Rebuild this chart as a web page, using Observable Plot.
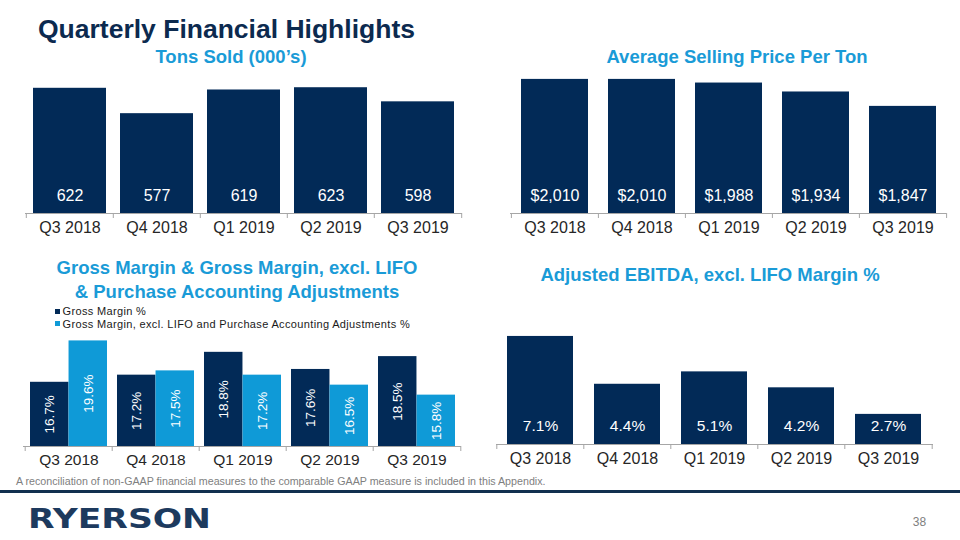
<!DOCTYPE html>
<html>
<head>
<meta charset="utf-8">
<script src="https://cdn.jsdelivr.net/npm/d3@7"></script>
<script src="https://cdn.jsdelivr.net/npm/@observablehq/plot@0.6"></script>
<style>
  html, body { margin: 0; padding: 0; background: #fff; }
  body { width: 960px; height: 540px; position: relative; overflow: hidden;
         font-family: "Liberation Sans", Arial, sans-serif; }
  .t { position: absolute; white-space: nowrap; line-height: 1; }
  .c { transform: translate(-50%, -50%); text-align: center; }
  .sub { color: #1a9bd7; font-weight: bold; font-size: 18.5px; }
  .panel { position: absolute; }
  .legend { position: absolute; left: 55px; top: 305px; font-size: 11px; letter-spacing: 0.35px; color: #1a1a1a; }
  .legend .row { display: flex; align-items: center; height: 12.6px; line-height: 12.6px; white-space: nowrap; }
  .legend .sw { width: 5px; height: 5px; margin-right: 2.5px; flex: none; }
</style>
</head>
<body>
<div class="t" style="left:38px;top:28.5px;font-size:26.5px;font-weight:bold;color:#0c2a4f;transform:translateY(-50%)">Quarterly Financial Highlights</div>

<div class="t c sub" style="left:231px;top:56.5px;">Tons Sold (000’s)</div>
<div class="t c sub" style="left:737px;top:56.5px;">Average Selling Price Per Ton</div>
<div class="t c sub" style="left:237px;top:280px;line-height:24px;">Gross Margin &amp; Gross Margin, excl. LIFO<br>&amp; Purchase Accounting Adjustments</div>
<div class="t c sub" style="left:710px;top:275px;">Adjusted EBITDA, excl. LIFO Margin %</div>

<div id="p1" class="panel" style="left:0px;top:60px;"></div>
<div id="p2" class="panel" style="left:480px;top:60px;"></div>
<div id="p3" class="panel" style="left:0px;top:328px;"></div>
<div id="p4" class="panel" style="left:480px;top:310px;"></div>

<div id="legend" class="legend"></div>

<div class="t" style="left:16px;top:481px;font-size:10.7px;color:#808080;transform:translateY(-50%)">A reconciliation of non-GAAP financial measures to the comparable GAAP measure is included in this Appendix.</div>
<div style="position:absolute;left:0;top:490px;width:960px;height:3px;background:#12304f;"></div>
<svg style="position:absolute;left:28px;top:500px;" width="230" height="34">
  <text x="0" y="27.5" font-family="DejaVu Sans, sans-serif" font-weight="bold" font-size="26" fill="#1d3a5e" textLength="183" lengthAdjust="spacingAndGlyphs">RYERSON</text>
</svg>
<div class="t c" style="left:919.5px;top:522px;font-size:12px;color:#808080;">38</div>

<script>
// ---------- data ----------
const quarters = ["Q3 2018", "Q4 2018", "Q1 2019", "Q2 2019", "Q3 2019"];
const tonsSold = [622, 577, 619, 623, 598];
const avgPrice = [2010, 2010, 1988, 1934, 1847];
const grossMargin = [16.7, 17.2, 18.8, 17.6, 18.5];
const grossMarginExcl = [19.6, 17.5, 17.2, 16.5, 15.8];
const ebitdaMargin = [7.1, 4.4, 5.1, 4.2, 2.7];
const seriesNames = ["Gross Margin %", "Gross Margin, excl. LIFO and Purchase Accounting Adjustments %"];
// axis ranges (value axes are hidden in the original)
const tonsAxis = [400, 650];
const priceAxis = [1200, 2100];
const marginAxis = [12.2, 20.4];
const ebitdaAxis = [1, 8];

const NAVY = "#022a57", BLUE = "#0f9ad7", AXIS = "#a6a6a6", LABEL = "#262626";
const seriesColors = [NAVY, BLUE];
const FONT = "Liberation Sans, Arial, sans-serif";

function axisMarks(domain, step, plotH, catSize, catDy) {
  return [
    Plot.ruleY([domain[0]], {stroke: AXIS, strokeWidth: 1}),
    Plot.ruleX(quarters, {x: d => d, dx: -step / 2, insetTop: plotH, insetBottom: -5, stroke: AXIS}),
    Plot.ruleX(quarters.slice(-1), {x: d => d, dx: step / 2, insetTop: plotH, insetBottom: -5, stroke: AXIS}),
    Plot.text(quarters, {x: d => d, text: d => d, frameAnchor: "bottom", dy: catDy, fill: LABEL, fontSize: catSize})
  ];
}

function simpleBars(o) {
  const data = quarters.map((q, i) => ({q, v: o.values[i]}));
  const plotW = o.width - o.ml - o.mr, plotH = o.height - o.mt - o.mb;
  const step = plotW / quarters.length;
  return Plot.plot({
    width: o.width, height: o.height,
    marginLeft: o.ml, marginRight: o.mr, marginTop: o.mt, marginBottom: o.mb,
    style: {background: "transparent", fontFamily: FONT, overflow: "visible"},
    x: {type: "band", domain: quarters, paddingInner: o.pad, paddingOuter: o.pad / 2, axis: null},
    y: {domain: o.domain, axis: null},
    marks: [
      Plot.barY(data, {x: "q", y1: d => o.domain[0], y2: "v", fill: NAVY}),
      Plot.text(data, {x: "q", text: d => o.fmt(d.v), frameAnchor: "bottom", dy: o.labelDy, fill: "white", fontSize: o.labelSize}),
      ...axisMarks(o.domain, step, plotH, o.catSize, o.catDy)
    ]
  });
}

document.getElementById("p1").append(simpleBars({
  values: tonsSold, domain: tonsAxis, fmt: d => String(d),
  width: 480, height: 190, ml: 25, mr: 18, mt: 12, mb: 37, pad: 0.165,
  labelSize: 16, labelDy: -13, catSize: 16, catDy: 19
}));

document.getElementById("p2").append(simpleBars({
  values: avgPrice, domain: priceAxis, fmt: d => "$" + d3.format(",")(d),
  width: 480, height: 190, ml: 30, mr: 14, mt: 4, mb: 37, pad: 0.232,
  labelSize: 16, labelDy: -13, catSize: 16, catDy: 19
}));

document.getElementById("p4").append(simpleBars({
  values: ebitdaMargin, domain: ebitdaAxis, fmt: d => d.toFixed(1) + "%",
  width: 480, height: 170, ml: 16, mr: 27, mt: 10, mb: 36, pad: 0.238,
  labelSize: 15.5, labelDy: -14, catSize: 16, catDy: 19
}));

// Gross margin grouped bars
(function () {
  const width = 480, height = 152, ml = 23, mr = 19, mt = 1, mb = 34, pad = 0.12;
  const plotW = width - ml - mr, plotH = height - mt - mb;
  const step = plotW / quarters.length;
  const bw = step * (1 - pad);
  const data = quarters.map((q, i) => ({q, gm: grossMargin[i], gx: grossMarginExcl[i]}));
  const fmt = d => d.toFixed(1) + "%";
  const chart = Plot.plot({
    width, height, marginLeft: ml, marginRight: mr, marginTop: mt, marginBottom: mb,
    style: {background: "transparent", fontFamily: FONT, overflow: "visible"},
    x: {type: "band", domain: quarters, paddingInner: pad, paddingOuter: pad / 2, axis: null},
    y: {domain: marginAxis, axis: null},
    marks: [
      Plot.barY(data, {x: "q", y1: d => marginAxis[0], y2: "gm", fill: seriesColors[0], insetRight: bw / 2}),
      Plot.barY(data, {x: "q", y1: d => marginAxis[0], y2: "gx", fill: seriesColors[1], insetLeft: bw / 2}),
      Plot.text(data, {x: "q", y: d => (marginAxis[0] + d.gm) / 2, text: d => fmt(d.gm), rotate: -90, dx: -bw / 4, fill: "white", fontSize: 13.5}),
      Plot.text(data, {x: "q", y: d => (marginAxis[0] + d.gx) / 2, text: d => fmt(d.gx), rotate: -90, dx: bw / 4, fill: "white", fontSize: 13.5}),
      ...axisMarks(marginAxis, step, plotH, 15.5, 18)
    ]
  });
  document.getElementById("p3").append(chart);

  const lg = document.getElementById("legend");
  seriesNames.forEach((name, i) => {
    const row = document.createElement("div");
    row.className = "row";
    const sw = document.createElement("span");
    sw.className = "sw";
    sw.style.background = seriesColors[i];
    const tx = document.createElement("span");
    tx.textContent = name;
    row.append(sw, tx);
    lg.append(row);
  });
})();
</script>
</body>
</html>
